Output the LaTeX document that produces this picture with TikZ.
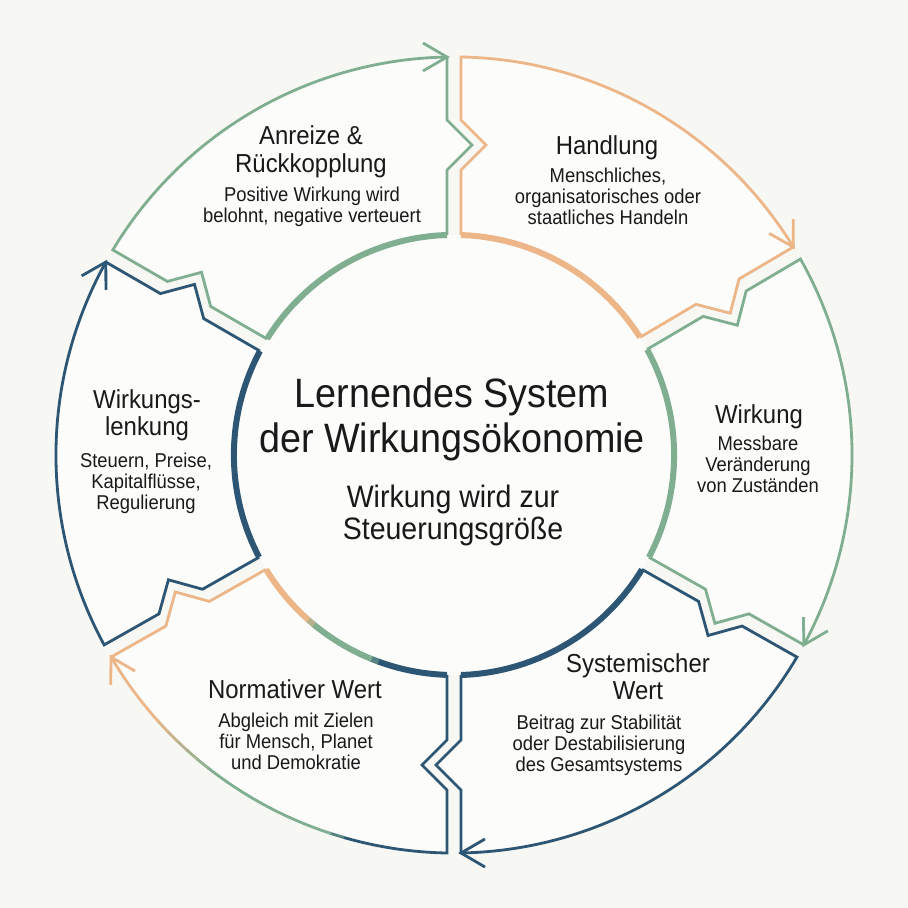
\documentclass[tikz,border=0pt]{standalone}
\usepackage{fontspec}
\setmainfont[FakeStretch=0.92]{Liberation Sans}
\usetikzlibrary{calc}
\definecolor{bg}{RGB}{247,247,244}
\definecolor{segfill}{RGB}{252,252,250}
\definecolor{cgreen}{RGB}{128,174,144}
\definecolor{corange}{RGB}{236,182,137}
\definecolor{cblue}{RGB}{44,86,116}
\definecolor{ink}{RGB}{25,25,25}
\newcommand{\ringseg}[5]{%
  \fill[segfill] (#1-s1) -- (#1-s2) -- (#1-s3) -- (#1-s4) -- (#1-s5)
    arc[start angle=#2-1.008, end angle=#4+1.008, radius=398]
    -- (#3-e4) -- (#3-e3) -- (#3-e2) -- (#3-e1)
    arc[start angle=#4+1.822, end angle=#2-1.822, radius=220] -- cycle;
  \draw[thinline,#5] (#1-s1) -- (#1-s2) -- (#1-s3) -- (#1-s4) -- (#1-s5)
    arc[start angle=#2-1.008, end angle=#4+1.008, radius=398];
  \draw[thinline,#5] (#3-b1) -- (#3-e5) -- (#3-b2);
  \draw[thinline,#5] (#3-e5) -- (#3-e4) -- (#3-e3) -- (#3-e2) -- (#3-e1);
  \draw[thickline,#5] (#3-e1) arc[start angle=#4+1.822, end angle=#2-1.822, radius=220];
}
\begin{document}
\begin{tikzpicture}[x=1pt,y=1pt,
  thinline/.style={line width=2.8pt},
  thickline/.style={line width=6pt},
  ttl/.style={font=\fontsize{41}{45}\selectfont, text=ink, align=center, anchor=base, inner sep=0pt},
  subt/.style={font=\fontsize{31}{32.5}\selectfont, text=ink, align=center, anchor=base, inner sep=0pt},
  head/.style={font=\fontsize{26}{27.5}\selectfont, text=ink, align=center, anchor=base, inner sep=0pt},
  body/.style={font=\fontsize{20}{21}\selectfont, text=ink, align=center, anchor=base, inner sep=0pt}]
\useasboundingbox (-454,-453) rectangle (454,455);
\fill[bg] (-454,-453) rectangle (454,455);
% boundary geometry
\foreach \n/\a in {A/90,B/30.5,C/-29.5,D/-90,E/-150.5,F/150}{
  \coordinate (\n-e1) at ($(\a:220)+(\a-90:-7)$);
  \coordinate (\n-e2) at ($(\a:285)+(\a-90:-7)$);
  \coordinate (\n-e3) at ($(\a:310)+(\a-90:18)$);
  \coordinate (\n-e4) at ($(\a:335)+(\a-90:-7)$);
  \coordinate (\n-e5) at ($(\a:398)+(\a-90:-7)$);
  \coordinate (\n-b1) at ($(\n-e5)+(\a+90:24)+(\a:14)$);
  \coordinate (\n-b2) at ($(\n-e5)+(\a+90:24)+(\a:-14)$);
  \coordinate (\n-s1) at ($(\a:220)+(\a-90:7)$);
  \coordinate (\n-s2) at ($(\a:285)+(\a-90:7)$);
  \coordinate (\n-s3) at ($(\a:310)+(\a-90:32)$);
  \coordinate (\n-s4) at ($(\a:335)+(\a-90:7)$);
  \coordinate (\n-s5) at ($(\a:398)+(\a-90:7)$);
}
\fill[segfill] (0,0) circle (220);
\ringseg{A}{90}{B}{30.5}{corange}
\ringseg{B}{30.5}{C}{-29.5}{cgreen}
\ringseg{C}{-29.5}{D}{-90}{cblue}
\ringseg{E}{-150.5}{F}{-210}{cblue}
\ringseg{F}{150}{A}{90}{cgreen}
% Normativer Wert (multi-coloured)
\fill[segfill] (D-s1) -- (D-s2) -- (D-s3) -- (D-s4) -- (D-s5)
  arc[start angle=-91.008, end angle=-149.492, radius=398]
  -- (E-e4) -- (E-e3) -- (E-e2) -- (E-e1)
  arc[start angle=-148.678, end angle=-91.822, radius=220] -- cycle;
\draw[thinline,cblue] (D-s1) -- (D-s2) -- (D-s3) -- (D-s4) -- (D-s5)
  arc[start angle=-91.008, end angle=-106.2, radius=398];
\foreach \p/\q/\c in {-106/-108.2/{cblue!50!cgreen},-108/-128.2/cgreen,
  -128/-130.2/{cgreen!83!corange},-130/-132.2/{cgreen!67!corange},
  -132/-134.2/{cgreen!50!corange},-134/-136.2/{cgreen!33!corange},
  -136/-138.2/{cgreen!17!corange},-138/-149.492/corange}{
  \draw[thinline,\c] (\p:398) arc[start angle=\p, end angle=\q, radius=398];
}
\draw[thinline,corange] (E-b1) -- (E-e5) -- (E-b2);
\draw[thinline,corange] (E-e5) -- (E-e4) -- (E-e3) -- (E-e2) -- (E-e1);
\foreach \p/\q/\c in {-91.822/-110.2/cblue,-110/-112.2/{cblue!50!cgreen},
  -112/-129.7/cgreen,-129.5/-131.7/{cgreen!50!corange},-131.5/-148.678/corange}{
  \draw[thickline,\c] (\p:220) arc[start angle=\p, end angle=\q, radius=220];
}
% texts (base anchor = baseline of the last line)
\node[ttl] (title) at (-2,3) {Lernendes System\\der Wirkungsökonomie};
\node[subt] (subtitle) at (-1,-84.5) {Wirkung wird zur\\Steuerungsgröße};
\node[head] (h6) at (-143,282.5) {Anreize \&\\Rückkopplung};
\node[body] (t6) at (-142,232) {Positive Wirkung wird\\belohnt, negative verteuert};
\node[head] (h1) at (153,300) {Handlung};
\node[body] (t1) at (154,230) {Menschliches,\\organisatorisches oder\\staatliches Handeln};
\node[head] (h2) at (305,32) {Wirkung};
\node[body] (t2) at (304,-37) {Messbare\\Veränderung\\von Zuständen};
\node[head] (h3) at (184,-244.5) {Systemischer\\Wert};
\node[body] (t3) at (145,-316) {Beitrag zur Stabilität\\oder Destabilisierung\\des Gesamtsystems};
\node[head] (h4) at (-159,-243) {Normativer Wert};
\node[body] (t4) at (-158,-314) {Abgleich mit Zielen\\für Mensch, Planet\\und Demokratie};
\node[head] (h5) at (-307,19.5) {Wirkungs-\\lenkung};
\node[body] (t5) at (-308,-54) {Steuern, Preise,\\Kapitalflüsse,\\Regulierung};
\end{tikzpicture}
\end{document}
